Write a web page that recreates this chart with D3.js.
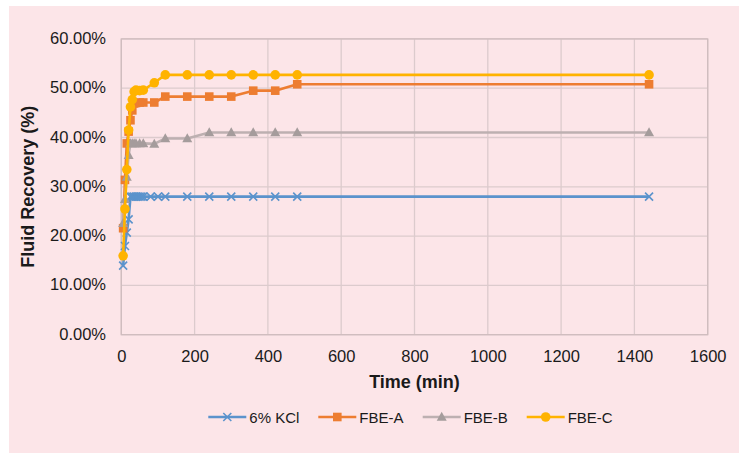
<!DOCTYPE html>
<html>
<head>
<meta charset="utf-8">
<script src="https://cdn.jsdelivr.net/npm/d3@7"></script>
<style>
  html, body { margin: 0; padding: 0; background: #ffffff; }
  svg { display: block; }
  text { font-family: "Liberation Sans", Arial, sans-serif; fill: #1a1a1a; }
</style>
</head>
<body>
<svg id="chart" width="739" height="453"></svg>
<script>
// ---- Data ----
const seriesNames = ["6% KCl", "FBE-A", "FBE-B", "FBE-C"];
const timesKCl = [5, 10, 15, 20, 25, 30, 35, 40, 45, 50, 55, 60, 80, 100, 120, 180, 240, 300, 360, 420, 480, 1440];
const valuesKCl = [14.0, 18.0, 20.7, 23.4, 28.0, 28.0, 28.0, 28.0, 28.0, 28.0, 28.0, 28.0, 28.0, 28.0, 28.0, 28.0, 28.0, 28.0, 28.0, 28.0, 28.0, 28.0];
const times = [5, 10, 15, 20, 25, 30, 35, 40, 50, 60, 90, 120, 180, 240, 300, 360, 420, 480, 1440];
const valuesA = [21.6, 31.4, 38.8, 41.2, 43.5, 45.5, 46.9, 47.0, 47.1, 47.1, 47.1, 48.3, 48.3, 48.3, 48.3, 49.5, 49.5, 50.8, 50.8];
const valuesB = [22.6, 27.5, 32.0, 36.4, 38.8, 38.8, 38.8, 38.8, 38.8, 38.8, 38.7, 39.8, 39.8, 41.0, 41.0, 41.0, 41.0, 41.0, 41.0];
const valuesC = [16.0, 25.5, 33.5, 41.5, 46.2, 47.7, 49.3, 49.6, 49.5, 49.6, 51.1, 52.7, 52.7, 52.7, 52.7, 52.7, 52.7, 52.7, 52.7];
const xTicks = [0, 200, 400, 600, 800, 1000, 1200, 1400, 1600];
const yTicks = [0, 0.1, 0.2, 0.3, 0.4, 0.5, 0.6];
const xTitle = "Time (min)";
const yTitle = "Fluid Recovery (%)";

const series = [
  { name: seriesNames[0], t: timesKCl, v: valuesKCl, line: "#5b93cc", mark: "#5b93cc", shape: "x" },
  { name: seriesNames[1], t: times, v: valuesA, line: "#ed7d31", mark: "#ed7d31", shape: "square" },
  { name: seriesNames[2], t: times, v: valuesB, line: "#bdb0b1", mark: "#a59c9c", shape: "triangle" },
  { name: seriesNames[3], t: times, v: valuesC, line: "#ffb300", mark: "#ffb300", shape: "circle" }
];

// ---- Layout ----
const svg = d3.select("#chart");
svg.append("rect").attr("x", 9).attr("y", 6).attr("width", 730).attr("height", 447).attr("fill", "#fce5e8");

const x = d3.scaleLinear().domain([0, 1600]).range([121.3, 707.7]);
const y = d3.scaleLinear().domain([0, 0.6]).range([334.7, 38.9]);

const grid = svg.append("g");
grid.selectAll("line.h").data(yTicks).join("line")
  .attr("x1", x(0)).attr("x2", x(1600))
  .attr("y1", d => y(d)).attr("y2", d => y(d))
  .attr("stroke", "#dccbcd").attr("stroke-width", 1.3);
grid.selectAll("line.v").data(xTicks).join("line")
  .attr("x1", d => x(d)).attr("x2", d => x(d))
  .attr("y1", y(0)).attr("y2", y(0.6))
  .attr("stroke", "#dccbcd").attr("stroke-width", 1.3);
svg.append("rect").attr("x", x(0)).attr("y", y(0.6))
  .attr("width", x(1600) - x(0)).attr("height", y(0) - y(0.6))
  .attr("fill", "none").attr("stroke", "#cfbcbe").attr("stroke-width", 1.3);

// Axes via d3 axis generators (domain/ticks lines hidden, labels restyled)
const fmt = d3.format(".2%");
const xAxis = svg.append("g").attr("transform", `translate(0,${y(0)})`)
  .call(d3.axisBottom(x).tickValues(xTicks).tickSize(0).tickPadding(0).tickFormat(d3.format("d")));
xAxis.select(".domain").remove();
xAxis.selectAll("text").attr("y", 27).attr("dy", null)
  .style("font-size", "16.5px").attr("fill", "#1a1a1a");

const yAxis = svg.append("g").attr("transform", `translate(106,0)`)
  .call(d3.axisLeft(y).tickValues(yTicks).tickSize(0).tickPadding(0).tickFormat(fmt));
yAxis.select(".domain").remove();
yAxis.selectAll("text").attr("x", 0).attr("dy", null).attr("y", 4.5)
  .style("font-size", "16.5px").attr("fill", "#1a1a1a");

// Titles
svg.append("text").attr("x", 414.5).attr("y", 388).attr("text-anchor", "middle")
  .style("font-size", "18px").style("font-weight", "bold").text(xTitle);
svg.append("text").attr("transform", `translate(33.5,${(y(0) + y(0.6)) / 2}) rotate(-90)`)
  .attr("text-anchor", "middle").style("font-size", "18px").style("font-weight", "bold").text(yTitle);

// Markers
function drawMarker(g, shape, color, cx, cy) {
  if (shape === "square") {
    g.append("rect").attr("x", cx - 4.3).attr("y", cy - 4.3).attr("width", 8.6).attr("height", 8.6).attr("fill", color);
  } else if (shape === "circle") {
    g.append("circle").attr("cx", cx).attr("cy", cy).attr("r", 4.8).attr("fill", color);
  } else if (shape === "triangle") {
    g.append("path").attr("d", `M${cx},${cy - 5.2}L${cx + 5},${cy + 3.8}L${cx - 5},${cy + 3.8}Z`).attr("fill", color);
  } else if (shape === "x") {
    g.append("path").attr("d", `M${cx - 4},${cy - 4}L${cx + 4},${cy + 4}M${cx - 4},${cy + 4}L${cx + 4},${cy - 4}`)
      .attr("stroke", color).attr("stroke-width", 1.6).attr("fill", "none");
  }
}

const lineGen = d3.line().x(d => x(d[0])).y(d => y(d[1] / 100));
series.forEach(s => {
  const pts = s.t.map((t, i) => [t, s.v[i]]);
  const g = svg.append("g");
  g.append("path").attr("d", lineGen(pts)).attr("fill", "none")
    .attr("stroke", s.line).attr("stroke-width", 2.6).attr("stroke-linejoin", "round");
  pts.forEach(p => drawMarker(g, s.shape, s.mark, x(p[0]), y(p[1] / 100)));
});

// Legend
const legendX = [208.3, 318.3, 422.7, 526.7];
const leg = svg.append("g");
series.forEach((s, i) => {
  const lx = legendX[i], ly = 417;
  leg.append("line").attr("x1", lx).attr("x2", lx + 38).attr("y1", ly).attr("y2", ly)
    .attr("stroke", s.line).attr("stroke-width", 2.6);
  drawMarker(leg, s.shape, s.mark, lx + 19, ly);
  leg.append("text").attr("x", lx + 41).attr("y", ly + 5.5).style("font-size", "15px").text(s.name);
});
</script>
</body>
</html>
